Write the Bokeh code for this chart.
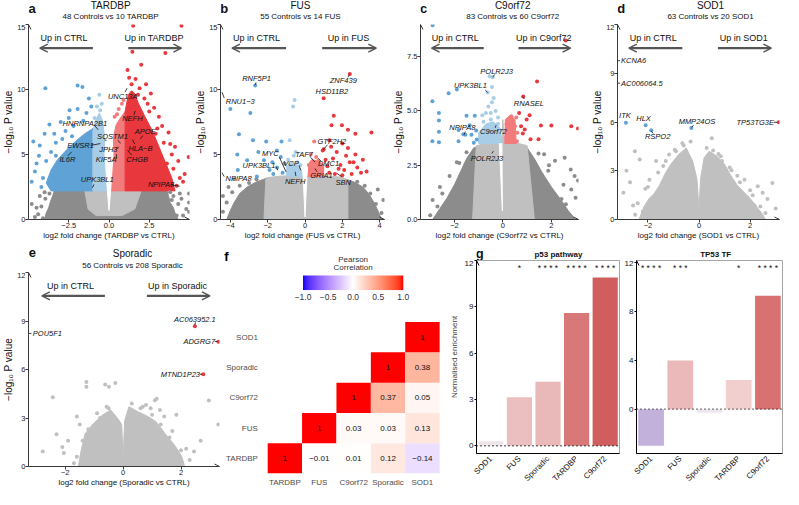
import math
import numpy as np
from bokeh.plotting import figure
from bokeh.models import (Range1d, FixedTicker, Label, Arrow, OpenHead, Span,
                          LinearColorMapper, ColumnDataSource, CustomJSTickFormatter)
from bokeh.layouts import row, column
from bokeh.embed import file_html
from bokeh.resources import INLINE
from bokeh.core.properties import value, field

FONT = "Liberation Sans"

# ======================= DATA =======================
# ---- Panel a: TARDBP volcano ----
a_poly_g = ["N", "n", "D", "d", "u", "U", "W"]
a_poly_x = [[-4.0, -3.9, -3.75, -3.6, -3.5, -3.4, 3.6, 3.7, 3.8, 4.0, 4.1, 4.3],
            [-1.5, 2.0, 1.6, 0.8, -0.8, -1.3],
            [-3.6, -3.9, -3.6, -3.2, -2.6, -2.0, -1.5, -1.0, -1.0],
            [-1.0, -1.0, -0.85, -0.6, -0.4, -0.3, -0.2, -0.1],
            [0.1, 0.2, 0.25, 0.45, 0.7, 1.0, 1.0],
            [1.0, 1.0, 1.2, 1.4, 1.6, 1.8, 2.2, 2.7, 3.1, 3.5, 3.9, 4.1],
            [0.0, -0.1, -0.25, -0.2, 0.0, 0.2, 0.25, 0.1]]
a_poly_y = [[0, 0.5, 0.9, 1.5, 1.8, 2.2, 2.2, 1.8, 1.3, 0.9, 0.5, 0],
            [2.2, 2.2, 0.8, 0.3, 0.3, 0.8],
            [2.2, 2.8, 3.8, 4.6, 5.4, 6.1, 6.6, 7.0, 2.2],
            [2.2, 6.8, 7.6, 8.2, 7.6, 6.6, 5.5, 2.2],
            [2.2, 5.0, 6.2, 7.3, 7.8, 8.3, 2.2],
            [2.2, 8.3, 9.6, 9.9, 9.7, 9.0, 8.0, 6.8, 5.6, 4.4, 3.2, 2.2],
            [0.7, 2.2, 5.0, 6.3, 6.6, 6.3, 5.0, 2.2]]
a_ns_out = [(-4.4, 0.4), (-4.2, 1.0), (-3.95, 1.6), (-4.6, 0.2), (-3.7, 2.0), (-4.3, 1.8),
            (3.9, 0.5), (4.3, 1.2), (4.6, 0.3), (4.0, 1.8), (-3.6, 0.3), (4.97, 2.0),
            (4.97, 1.3), (4.97, 0.6), (4.4, 2.0), (3.8, 2.1), (-4.8, 1.2), (4.8, 0.8),
            (-4.1, 0.1), (4.5, 1.6), (-4.5, 0.9), (4.2, 0.3), (3.9, 1.5), (-4.0, 2.1)]
a_dn_lo = [(-0.6, 9.6), (-0.75, 8.7), (-0.45, 8.9), (-0.9, 7.8), (-0.55, 8.4)]
a_dn = [(-3.95, 10.1), (-1.95, 10.3), (-1.65, 10.2), (-2.45, 8.4), (-1.95, 8.5), (-1.25, 9.3),
        (-1.1, 8.7), (-4.7, 6.0), (-4.0, 6.6), (-4.35, 4.9), (-4.6, 3.7), (-3.7, 7.3),
        (-3.0, 7.5), (-3.3, 5.9), (-2.7, 6.8), (-3.9, 4.5), (-4.1, 3.2), (-3.6, 5.2),
        (-2.2, 7.2), (-4.8, 2.9), (-2.9, 6.2), (-1.6, 7.6), (-4.3, 5.7), (-2.5, 7.8),
        (-1.4, 8.2), (-3.4, 6.6), (-4.5, 4.3), (-4.2, 2.5), (-3.3, 4.9), (-2.3, 6.4)]
a_up_lo = [(0.35, 7.9), (0.6, 8.5), (0.8, 8.9), (0.5, 8.1), (0.9, 9.2)]
a_up = [(1.5, 14.9), (4.5, 14.9), (1.45, 12.9), (3.5, 12.8), (2.0, 11.9), (1.15, 11.5),
        (1.25, 10.9), (1.65, 10.8), (2.3, 10.4), (1.4, 10.4), (1.9, 10.1), (2.6, 9.7),
        (2.2, 9.3), (2.8, 8.6), (3.1, 7.9), (2.5, 8.3), (3.3, 7.2), (3.7, 6.7), (4.1, 5.6),
        (3.9, 5.0), (4.3, 4.5), (3.4, 5.9), (4.0, 3.9), (3.6, 4.3), (4.4, 3.2), (4.7, 3.5),
        (2.9, 6.6), (4.2, 2.6), (4.95, 4.8), (2.4, 8.9), (1.8, 9.6), (3.0, 7.0), (3.8, 5.8),
        (4.6, 2.9)]
a_genes = ["UNC13A", "NEFH", "APOE", "HNRNPA2B1", "SQSTM1", "EWSR1", "HLA\u2212B", "JPH3",
           "IL6R", "KIF5A", "CHGB", "UPK3BL1", "NPIPA8"]
a_gene_x = [0.85, 1.45, 2.25, -1.5, 0.22, -1.77, 1.95, -0.04, -2.58, -0.18, 1.75, -0.73, 3.23]
a_gene_y = [9.5, 7.8, 6.75, 7.4, 6.4, 5.7, 5.5, 5.4, 4.63, 4.58, 4.63, 3.05, 2.73]
a_gene_al = ["center"] * 13
a_lead_x0 = [1.0, 1.55, 2.1, -0.87, 0.55, -1.13, 1.6, 0.42, -2.56, 0.46, 1.41, -0.93, 3.83]
a_lead_y0 = [9.8, 8.05, 6.45, 7.2, 6.1, 5.7, 5.8, 5.4, 4.9, 4.66, 4.95, 2.7, 2.68]
a_lead_x1 = [1.12, 1.62, 1.95, -0.67, 0.72, -0.54, 1.45, 0.61, -2.32, 0.46, 1.15, -1.03, 4.39]
a_lead_y1 = [10.1, 8.35, 6.2, 6.9, 5.85, 5.84, 6.15, 5.57, 5.2, 5.03, 5.32, 2.44, 2.56]

# ---- Panel b: FUS volcano ----
b_poly_g = ["N", "n", "d", "u", "W"]
b_poly_x = [[-4.2, -4.0, -3.8, -3.5, -3.1, -2.6, -2.0, 2.0, 2.6, 3.1, 3.4, 3.7, 3.9, 4.1],
            [-2.1, -1.9, -1.2, 1.2, 2.0, 2.3, 2.3, -2.2],
            [-1.0, -1.0, -0.7, -0.4, -0.12, -0.1],
            [0.1, 0.15, 0.35, 0.7, 1.0, 1.0],
            [0.0, -0.1, -0.16, 0.16, 0.1]]
b_poly_y = [[0, 0.7, 1.3, 2.0, 2.5, 2.9, 3.2, 3.2, 2.9, 2.5, 2.0, 1.3, 0.7, 0],
            [3.1, 3.25, 3.35, 3.35, 3.25, 3.0, 0, 0],
            [3.3, 4.1, 4.4, 4.2, 3.6, 3.3],
            [3.3, 4.2, 4.6, 4.5, 4.2, 3.3],
            [0.2, 3.3, 4.4, 4.4, 3.3]]
b_ns_out = [(-4.2, 1.3), (-3.9, 2.1), (-3.5, 2.6), (-4.4, 0.6), (3.8, 1.2), (3.5, 2.0),
            (4.1, 0.5), (3.2, 2.6), (-3.0, 2.8), (-3.8, 3.1), (2.8, 2.9), (-4.1, 2.5),
            (3.9, 2.3), (-3.3, 1.4), (3.6, 0.9), (-4.4, 1.8), (4.2, 1.5), (-2.6, 3.1)]
b_dn_lo = [(-0.56, 9.2), (-0.64, 8.7), (-0.82, 6.1), (-0.6, 4.9), (-0.4, 4.4), (-0.8, 4.0),
           (-0.3, 3.8), (-0.7, 3.5), (-0.5, 5.2), (-0.9, 4.6), (-0.25, 4.2)]
b_dn = [(-2.67, 10.3), (-4.0, 8.5), (-2.93, 8.2), (-3.54, 6.55), (-2.79, 6.1), (-2.08, 6.0),
        (-1.26, 6.0), (-1.51, 5.3), (-3.63, 5.0), (-3.1, 4.55), (-2.2, 4.55), (-3.6, 3.8),
        (-2.58, 3.3), (-1.5, 4.0), (-1.2, 3.6), (-1.7, 3.5), (-1.1, 4.3), (-1.9, 3.8),
        (-1.3, 4.8), (-2.5, 5.2), (-1.75, 4.4)]
b_up_lo = [(0.49, 6.0), (0.3, 5.0), (0.6, 4.8), (0.45, 4.4), (0.75, 4.1), (0.2, 4.2),
           (0.55, 3.8), (0.85, 3.7), (0.35, 3.6), (0.7, 4.5), (0.9, 4.0)]
b_up = [(2.4, 11.2), (1.0, 9.33), (1.54, 7.98), (1.98, 7.25), (3.56, 6.7), (1.42, 7.25),
        (2.3, 6.9), (2.7, 6.6), (1.3, 6.1), (2.0, 5.85), (1.0, 5.4), (1.7, 5.2), (2.3, 5.5),
        (2.7, 5.0), (3.1, 4.6), (2.4, 4.4), (1.9, 4.2), (1.5, 4.7), (1.2, 4.1), (2.8, 4.0),
        (3.0, 3.6), (2.1, 3.8), (1.6, 3.5), (2.5, 3.5), (3.3, 3.7), (1.3, 3.6), (2.2, 4.9),
        (1.1, 4.6), (2.6, 4.4), (1.8, 3.9), (2.0, 3.4), (1.4, 5.6), (0.95, 5.3)]
b_genes = ["RNF5P1", "RNU1\u22123", "ZNF439", "HSD11B2", "GTF2H2", "TAF7", "MYC", "VCP",
           "UPK3BL1", "DMC1", "NEFH", "GRIA1", "SBN", "NPIPA8"]
b_gene_x = [-2.6, -4.25, 2.05, 1.44, 1.44, -0.05, -1.86, -0.75, -2.47, 1.26, -0.53, 0.88, 2.05, -4.26]
b_gene_y = [10.86, 9.04, 10.7, 9.83, 6.0, 5.03, 5.08, 4.29, 4.16, 4.29, 2.93, 3.35, 2.81, 3.18]
b_gene_al = ["center", "left"] + ["center"] * 11 + ["left"]
b_lead_x0 = [-2.62, -4.45, 2.3, 1.2, 0.3, -1.37, -0.32, -1.54, 0.85, -0.49, 0.65, 1.96, -4.45]
b_lead_y0 = [10.55, 9.8, 10.95, 5.75, 4.78, 4.78, 4.16, 4.04, 4.5, 3.35, 3.67, 3.3, 3.6]
b_lead_x1 = [-2.67, -4.33, 2.38, 0.97, 0.53, -1.02, -0.23, -1.46, 0.7, -0.53, 0.53, 1.7, -4.33]
b_lead_y1 = [10.35, 9.35, 11.15, 5.35, 4.41, 3.67, 3.79, 3.79, 4.72, 3.67, 3.92, 3.55, 3.3]

# ---- Panel c: C9orf72 volcano ----
c_poly_g = ["N", "n", "d", "u", "W"]
c_poly_x = [[-2.9, -2.6, -2.3, -2.0, -1.75, -1.5, -1.2, -0.5, 0.5, 1.0, 1.3, 1.6, 2.0, 2.4, 2.7, 3.0],
            [-1.25, -1.1, -0.3, -0.05, 0.0, 0.05, 0.3, 1.0, 1.3],
            [-1.0, -1.0, -0.7, -0.4, -0.1, -0.08],
            [0.08, 0.1, 0.3, 0.5, 0.55],
            [-0.02, -0.15, -0.04]]
c_poly_y = [[0, 0.5, 1.0, 1.6, 2.2, 2.8, 3.3, 3.5, 3.5, 3.3, 2.8, 2.2, 1.5, 0.9, 0.4, 0],
            [0, 3.4, 3.6, 3.7, 4.6, 3.7, 3.6, 3.4, 0],
            [3.5, 4.0, 4.4, 4.5, 4.2, 3.5],
            [3.5, 4.6, 4.8, 4.6, 3.5],
            [0.4, 3.5, 3.5]]
c_ns_out = [(-1.9, 2.64), (-2.5, 1.2), (-2.3, 0.35), (2.96, 2.0), (2.55, 2.84), (2.15, 2.7),
            (1.47, 3.04), (1.87, 2.24), (2.42, 0.94), (2.82, 1.38), (-2.6, 1.5), (-2.9, 0.9),
            (-2.2, 2.0), (-1.8, 2.6), (2.8, 2.3), (2.5, 1.6), (3.0, 1.0), (2.2, 0.4), (1.9, 2.5),
            (1.7, 3.0), (-2.0, 0.8), (2.6, 0.7), (-3.0, 0.2), (3.1, 1.8), (-1.5, 3.1),
            (-2.7, 0.6), (1.6, 2.0), (-1.6, 2.2)]
c_dn_lo = [(-0.42, 6.55), (-0.55, 6.6), (-0.45, 6.1), (-0.63, 5.85), (-0.6, 5.2), (-0.45, 5.4),
           (-0.3, 5.0), (-0.7, 4.9), (-0.2, 4.7), (-0.5, 4.6), (-0.8, 4.5), (-0.35, 4.3),
           (-0.65, 4.2), (-0.9, 4.0), (-0.15, 4.1), (-0.55, 3.9), (-0.25, 3.75), (-0.75, 3.7),
           (-0.4, 3.6), (-0.95, 3.6), (-0.1, 3.6), (-0.85, 4.8), (-0.3, 3.9), (-0.6, 3.55),
           (-0.28, 4.34), (-0.45, 4.0), (-0.7, 3.85), (-0.2, 4.4), (-0.5, 4.9), (-0.38, 5.6)]
c_dn = [(-2.91, 5.44), (-2.24, 5.81), (-1.9, 5.99), (-2.64, 4.9), (-2.64, 4.56), (-2.64, 4.04),
        (-2.91, 3.6), (-2.64, 3.56), (-1.5, 4.78), (-1.16, 4.78), (-1.37, 4.34), (-1.83, 4.12),
        (-1.63, 3.93), (-1.3, 3.9), (-1.83, 3.6), (-1.08, 3.68), (-1.2, 3.53), (-2.9, 8.95),
        (-1.55, 3.9), (-1.1, 4.1)]
c_up_lo = [(0.15, 4.4), (0.35, 4.2), (0.25, 3.9), (0.45, 3.7), (0.2, 4.6), (0.4, 4.5),
           (0.6, 4.0), (0.55, 4.7), (0.3, 3.6), (0.5, 4.3), (0.13, 3.8), (0.4, 3.95),
           (0.22, 4.25), (0.58, 3.6), (0.35, 4.75), (0.15, 4.05)]
c_up = [(0.84, 5.66), (1.41, 6.35), (0.67, 4.9), (1.1, 4.8), (0.98, 4.6), (1.57, 4.33),
        (2.0, 4.33), (2.82, 4.3), (1.14, 3.7), (1.47, 3.7), (0.82, 3.96), (3.1, 4.19),
        (2.59, 8.24), (0.75, 4.3), (0.9, 4.15)]
c_genes = ["POLR2J3", "UPK3BL1", "RNASEL", "NPIPA8", "C9orf72", "POLR2J3"]
c_gene_x = [-0.26, -1.34, 1.07, -1.67, -0.39, -0.66]
c_gene_y = [6.81, 6.18, 5.34, 4.23, 4.04, 2.83]
c_gene_al = ["center"] * 6
c_lead_x0 = [-0.34, -0.73, 0.89, -1.55, -0.32, -0.46]
c_lead_y0 = [6.68, 5.96, 5.55, 4.05, 4.22, 3.04]
c_lead_x1 = [-0.42, -0.63, 0.8, -1.6, -0.28, -0.39]
c_lead_y1 = [6.55, 5.85, 5.66, 3.9, 4.34, 3.15]

# ---- Panel d: SOD1 volcano ----
d_poly_g = ["n"]
d_poly_x = [[-2.35, -2.15, -1.95, -1.75, -1.55, -1.3, -1.1, -0.8, -0.5, -0.25, -0.08, 0.0,
             0.06, 0.2, 0.4, 0.7, 1.0, 1.25, 1.5, 1.75, 2.0, 2.3, 2.5, 2.6]]
d_poly_y = [[0, 0.8, 1.3, 1.6, 2.1, 2.9, 3.4, 4.0, 4.4, 3.6, 2.5, 0.6,
             2.5, 3.8, 4.2, 3.9, 3.4, 2.7, 2.1, 1.7, 1.3, 0.7, 0.3, 0]]
d_ns = [(-0.33, 4.8), (-0.65, 4.7), (-1.17, 4.0), (-1.68, 3.6), (-2.51, 4.2), (-2.32, 3.7),
        (-1.94, 2.44), (-2.84, 3.0), (-2.96, 1.65), (-2.58, 0.86), (-1.04, 2.8), (0.5, 5.0),
        (0.76, 4.03), (1.27, 3.03), (1.78, 2.44), (2.3, 2.05), (2.49, 1.65), (2.68, 1.26),
        (2.87, 2.24), (2.17, 0.86), (3.0, 0.67), (-1.4, 3.3), (-2.1, 1.9), (1.5, 2.7),
        (2.0, 1.8), (-2.7, 2.3), (2.6, 0.4), (-2.2, 0.5), (0.9, 3.6), (-0.9, 4.2),
        (-2.4, 1.0), (-2.0, 2.0), (-1.6, 2.9), (-1.3, 3.6), (-0.95, 4.3), (-0.6, 4.55),
        (0.3, 4.4), (0.55, 4.25), (0.85, 3.9), (1.2, 3.2), (1.6, 2.3), (2.1, 1.5), (2.4, 0.8),
        (-2.5, 0.3)]
d_dn = [(-2.86, 5.95), (-2.09, 5.8), (-1.87, 5.5), (-0.3, 5.63)]
d_up = [(3.12, 5.99)]
d_genes = ["KCNA6", "AC006064.5", "ITK", "HLX", "RSPO2", "MMP24OS", "TP53TG3E"]
d_gene_x = [-3.05, -3.05, -2.9, -2.17, -1.62, -0.08, 2.2]
d_gene_y = [9.77, 8.39, 6.42, 6.22, 5.1, 6.03, 5.95]
d_gene_al = ["left", "left", "center", "center", "center", "center", "center"]
d_lead_x0 = [-3.19, -3.19, -1.8, -0.22, 2.93]
d_lead_y0 = [9.77, 8.39, 5.3, 5.8, 5.98]
d_lead_x1 = [-3.09, -3.09, -1.87, -0.28, 3.06]
d_lead_y1 = [9.77, 8.39, 5.45, 5.68, 5.98]

# ---- Panel e: Sporadic volcano ----
e_poly_g = ["n"]
e_poly_x = [[-1.55, -1.5, -1.45, -1.38, -1.32, -1.15, -1.0, -0.7, -0.43, -0.2, -0.05, 0.0,
             0.05, 0.2, 0.5, 0.85, 1.12, 1.3, 1.46, 1.7, 1.9, 2.05, 2.12]]
e_poly_y = [[0, 0.5, 1.0, 1.5, 2.0, 2.4, 2.7, 3.2, 3.5, 3.0, 2.6, 0.5,
             2.8, 3.7, 3.4, 3.1, 2.8, 2.4, 2.0, 1.5, 1.0, 0.5, 0]]
e_ns = [(-1.27, 5.22), (-1.27, 4.93), (-0.62, 5.07), (-0.49, 4.93), (-0.27, 5.17), (-2.43, 4.28),
        (-0.57, 3.7), (1.16, 4.19), (1.1, 4.1), (0.68, 3.7), (0.79, 3.8), (1.84, 3.2),
        (-2.78, 0.93), (-2.1, 1.2), (-2.05, 0.83), (-1.6, 3.1), (2.18, 1.1), (2.45, 0.93),
        (1.27, 3.5), (1.42, 3.1), (2.96, 4.08), (2.68, 1.6), (3.29, 2.6), (-1.9, 1.6),
        (1.7, 2.2), (-1.5, 2.6), (0.95, 3.6), (-0.9, 3.3), (1.95, 0.6), (-2.3, 2.0),
        (-1.6, 0.6), (-1.4, 1.6), (-1.2, 2.3), (-0.8, 3.0), (-0.5, 3.6), (0.3, 3.9),
        (0.6, 3.6), (1.0, 3.2), (1.3, 2.6), (1.6, 1.8), (2.0, 1.0), (2.3, 0.4), (-1.7, 0.2)]
e_up = [(2.48, 8.67), (3.29, 7.72), (2.77, 5.71)]
e_genes = ["POU5F1", "AC063952.1", "ADGRG7", "MTND1P23"]
e_gene_x = [-3.12, 2.48, 2.63, 1.98]
e_gene_y = [8.23, 9.1, 7.76, 5.71]
e_gene_al = ["left", "center", "center", "center"]
e_lead_x0 = [-3.27, 2.5, 3.17, 2.64]
e_lead_y0 = [8.23, 8.92, 7.74, 5.71]
e_lead_x1 = [-3.17, 2.48, 3.26, 2.73]
e_lead_y1 = [8.23, 8.75, 7.73, 5.71]

# ---- Panel f: Pearson correlation (lower triangle) ----
f_cols = ["TARDBP", "FUS", "C9orf72", "Sporadic", "SOD1"]
f_rows = ["TARDBP", "FUS", "C9orf72", "Sporadic", "SOD1"]   # bottom -> top
f_x = ["TARDBP", "FUS", "C9orf72", "Sporadic", "SOD1",
       "FUS", "C9orf72", "Sporadic", "SOD1",
       "C9orf72", "Sporadic", "SOD1",
       "Sporadic", "SOD1",
       "SOD1"]
f_y = ["TARDBP"] * 5 + ["FUS"] * 4 + ["C9orf72"] * 3 + ["Sporadic"] * 2 + ["SOD1"]
f_r = [1, -0.01, 0.01, 0.12, -0.14,
       1, 0.03, 0.03, 0.13,
       1, 0.37, 0.05,
       1, 0.38,
       1]
f_bar_ticks = [-1.0, -0.5, 0.0, 0.5, 1.0]

# ---- Panel g: normalised enrichment ----
g_cats = ["SOD1", "FUS", "Sporadic", "TARDBP", "C9orf72"]
g_p53 = [0.3, 3.15, 4.15, 8.6, 10.9]
g_p53_sig = ["", "*", "* * * *", "* * * *", "* * * *"]
g_tf = [-3.0, 4.0, -0.3, 2.4, 9.3]
g_tf_sig = ["* * * *", "* * *", "", "*", "* * * *"]
g_p53_colors = ["#efe6ea", "#ebbfbf", "#e9b8b8", "#d97878", "#d05e5e"]
g_tf_colors = ["#c2b1db", "#ebb9b9", "#ece7ee", "#f1cfcf", "#d87272"]

# ======================= HELPERS =======================
SX = 783 / 799
SY = 489 / 505


def P(v, s):
    return int(round(v * s))


COL = {"U": "#e8383d", "u": "#f27b7b", "D": "#5fa2d5", "d": "#a8cde7",
       "N": "#8c8c8c", "n": "#c0c0c0", "W": "#ffffff"}
AXC = "#3a3a3a"
ARC = "#555555"


def panel(box, frame, xr, yr, yaxis=True):
    x0, y0, x1, y1 = box
    L, T, R, B = frame
    W = P(x1, SX) - P(x0, SX)
    H = P(y1, SY) - P(y0, SY)
    kw = {} if yaxis else {"y_axis_location": None}
    p = figure(width=W, height=H, x_range=Range1d(*xr), y_range=Range1d(*yr),
               output_backend="svg", toolbar_location=None, title=None,
               min_border_left=P(L, SX) - P(x0, SX), min_border_right=P(x1, SX) - P(R, SX),
               min_border_top=P(T, SY) - P(y0, SY), min_border_bottom=P(y1, SY) - P(B, SY), **kw)
    p.outline_line_color = None
    p.xgrid.visible = False
    p.ygrid.visible = False
    p.background_fill_color = "white"
    p.border_fill_color = "white"

    def rx(v):
        return xr[0] + (v - L) / (R - L) * (xr[1] - xr[0])

    def ry(v):
        return yr[0] + (B - v) / (B - T) * (yr[1] - yr[0])
    return p, rx, ry


def header(x0, x1, y0, y1, items):
    """A strip above a panel whose scales are the reference page pixels."""
    W = P(x1, SX) - P(x0, SX)
    H = P(y1, SY) - P(y0, SY)
    h = figure(width=W, height=H, x_range=Range1d(x0, x1), y_range=Range1d(y1, y0),
               output_backend="svg", toolbar_location=None, title=None,
               x_axis_location=None, y_axis_location=None,
               min_border_left=0, min_border_right=0, min_border_top=0, min_border_bottom=0)
    h.outline_line_color = None
    h.xgrid.visible = False
    h.ygrid.visible = False
    for gr in list(h.center):
        gr.visible = False
    h.background_fill_color = "white"
    h.border_fill_color = "white"
    for (x, y, t, size, style) in items:
        h.text(x=[x], y=[y], text=[t], text_font=value(FONT), text_font_size=size,
               text_font_style=style, text_align="center", text_baseline="middle",
               text_color="#111111")
    return h


def fmt(dec):
    return CustomJSTickFormatter(
        code="var s = Math.abs(tick).toFixed(%d); return (tick < -1e-9 ? '\u2212' : '') + s;" % dec)


def style_axes(p, xticks, yticks, xdec, ydec, xlabel, ylabel, tick_fs="7.5px", lab_fs="8px"):
    p.xaxis.ticker = FixedTicker(ticks=xticks)
    p.yaxis.ticker = FixedTicker(ticks=yticks)
    p.xaxis.formatter = fmt(xdec)
    p.yaxis.formatter = fmt(ydec)
    p.xaxis.axis_label = xlabel
    p.yaxis.axis_label = ylabel
    for ax in (p.xaxis[0], p.yaxis[0]):
        ax.axis_line_color = AXC
        ax.axis_line_width = 1
        ax.major_tick_line_color = AXC
        ax.major_tick_out = 3
        ax.major_tick_in = 0
        ax.minor_tick_line_color = None
        ax.major_label_text_font = FONT
        ax.major_label_text_font_size = tick_fs
        ax.major_label_text_color = "#222222"
        ax.major_label_standoff = 0
        ax.axis_label_text_font = FONT
        ax.axis_label_text_font_size = lab_fs
        ax.axis_label_text_font_style = "normal"
        ax.axis_label_text_color = "#111111"
        ax.axis_label_standoff = 0


def add_label(p, x, y, text, size, style="normal", color="#111111", align="center"):
    p.add_layout(Label(x=x, y=y, text=text, text_font=FONT, text_font_size=size,
                       text_font_style=style, text_color=color, text_align=align,
                       text_baseline="middle"))


def axis_arrows(p, xr, yr, color=AXC, x=True, y=True):
    if y:
        d = (yr[1] - yr[0]) * 0.02
        p.add_layout(Arrow(end=OpenHead(size=5, line_width=1, line_color=color),
                           x_start=xr[0], y_start=yr[1] - d, x_end=xr[0], y_end=yr[1],
                           line_color=color, line_width=1))
    if x:
        d = (xr[1] - xr[0]) * 0.02
        p.add_layout(Arrow(end=OpenHead(size=5, line_width=1, line_color=color),
                           x_start=xr[1] - d, y_start=yr[0], x_end=xr[1], y_end=yr[0],
                           line_color=color, line_width=1))


def volcano(box, frame, xr, yr, xt, yt, xdec, ydec, xlabel, title, title_xy, sub, sub_xy,
            letter, letter_xy, right_name, polx, poly, polg, layers,
            genes, gx, gy, gal, lx0, ly0, lx1, ly1):
    x0, y0, x1, y1 = box
    L, T, R, B = frame
    h = header(x0, x1, y0, T, [(letter_xy[0], letter_xy[1], letter, "13px", "bold"),
                               (title_xy[0], title_xy[1], title, "10px", "normal"),
                               (sub_xy[0], sub_xy[1], sub, "8px", "normal")])
    p, rx, ry = panel((x0, T, x1, y1), frame, xr, yr)
    style_axes(p, xt, yt, xdec, ydec, xlabel, "\u2212log\u2081\u2080 P value", lab_fs="8px")
    p.yaxis.axis_label_text_font_size = "10px"
    p.patches(xs=polx, ys=poly, fill_color=[COL[g] for g in polg],
              line_color=[COL[g] for g in polg], line_width=1)
    for key, pts in layers:
        p.scatter(x=[q[0] for q in pts], y=[q[1] for q in pts], size=4,
                  fill_color=COL[key], line_color=None)
    p.segment(x0=lx0, y0=ly0, x1=lx1, y1=ly1, line_color="#111111", line_width=0.8)
    src = ColumnDataSource(dict(x=gx, y=gy, t=genes, al=gal))
    p.text(x="x", y="y", text="t", source=src, text_font=value(FONT),
           text_font_size="7.5px", text_font_style="italic",
           text_align=field("al"), text_baseline="middle", text_color="#111111")
    yt_ = ry(T + 14.5)
    ya = ry(T + 24.5)
    add_label(p, rx(L + 0.22 * (R - L)), yt_, "Up in CTRL", "9px")
    add_label(p, rx(L + 0.78 * (R - L)), yt_, "Up in " + right_name, "9px")
    p.add_layout(Arrow(end=OpenHead(size=8, line_width=1.4, line_color=ARC),
                       x_start=rx(L + 0.40 * (R - L)), y_start=ya,
                       x_end=rx(L + 0.07 * (R - L)), y_end=ya, line_width=2.2, line_color=ARC))
    p.add_layout(Arrow(end=OpenHead(size=8, line_width=1.4, line_color=ARC),
                       x_start=rx(L + 0.62 * (R - L)), y_start=ya,
                       x_end=rx(L + 0.95 * (R - L)), y_end=ya, line_width=2.2, line_color=ARC))
    axis_arrows(p, xr, yr)
    return column(h, p)


# ======================= PANELS =======================
pa = volcano((0, 0, 196, 250), (25, 25, 193, 228), (-5.0, 5.0), (0, 15),
             [-2.5, 0, 2.5], [0, 5, 10, 15], 1, 0, "log2 fold change (TARDBP vs CTRL)",
             "TARDBP", (100, 5.5), "48 Controls vs 10 TARDBP", (100, 16.5), "a", (4.5, 8), "TARDBP",
             a_poly_x, a_poly_y, a_poly_g,
             [("N", a_ns_out), ("d", a_dn_lo), ("D", a_dn), ("u", a_up_lo), ("U", a_up)],
             a_genes, a_gene_x, a_gene_y, a_gene_al, a_lead_x0, a_lead_y0, a_lead_x1, a_lead_y1)

pb = volcano((196, 0, 393, 250), (225, 25, 392, 228), (-4.53, 4.26), (0, 15),
             [-4, -2, 0, 2, 4], [0, 5, 10, 15], 0, 0, "log2 fold change (FUS vs CTRL)",
             "FUS", (292, 5.5), "55 Controls vs 14 FUS", (292, 16.5), "b", (200.5, 8), "FUS",
             b_poly_x, b_poly_y, b_poly_g,
             [("N", b_ns_out), ("d", b_dn_lo), ("D", b_dn), ("u", b_up_lo), ("U", b_up)],
             b_genes, b_gene_x, b_gene_y, b_gene_al, b_lead_x0, b_lead_y0, b_lead_x1, b_lead_y1)

pc = volcano((393, 0, 597, 250), (429, 25, 590, 228), (-3.40, 3.12), (0, 8.98),
             [-2, 0, 2], [0, 2.5, 5, 7.5], 0, 1, "log2 fold change (C9orf72 vs CTRL)",
             "C9orf72", (512, 5.5), "83 Controls vs 60 C9orf72", (512, 16.5), "c", (397, 8), "C9orf72",
             c_poly_x, c_poly_y, c_poly_g,
             [("N", c_ns_out), ("d", c_dn_lo), ("D", c_dn), ("u", c_up_lo), ("U", c_up)],
             c_genes, c_gene_x, c_gene_y, c_gene_al, c_lead_x0, c_lead_y0, c_lead_x1, c_lead_y1)

pd_ = volcano((597, 0, 799, 250), (630, 25, 795, 228), (-3.19, 3.15), (0, 12),
              [-2, 0, 2], [0, 3, 6, 9, 12], 0, 0, "log2 fold change (SOD1 vs CTRL)",
              "SOD1", (713, 5.5), "63 Controls vs 20 SOD1", (713, 16.5), "d", (601.5, 8), "SOD1",
              d_poly_x, d_poly_y, d_poly_g,
              [("n", d_ns), ("D", d_dn), ("U", d_up)],
              d_genes, d_gene_x, d_gene_y, d_gene_al, d_lead_x0, d_lead_y0, d_lead_x1, d_lead_y1)

pe = volcano((0, 250, 226, 505), (25, 281, 223, 484), (-3.27, 3.33), (0, 12),
             [-2, 0, 2], [0, 3, 6, 9, 12], 0, 0, "log2 fold change (Sporadic vs CTRL)",
             "Sporadic", (123, 261), "56 Controls vs 208 Sporadic", (123, 273.5), "e", (4.5, 260),
             "Sporadic", e_poly_x, e_poly_y, e_poly_g,
             [("n", e_ns), ("U", e_up)],
             e_genes, e_gene_x, e_gene_y, e_gene_al, e_lead_x0, e_lead_y0, e_lead_x1, e_lead_y1)


# ---- heatmap f ----
def _lin(c):
    c = c / 255.0
    return c / 12.92 if c <= 0.04045 else ((c + 0.055) / 1.055) ** 2.4


def _gam(c):
    c = max(0.0, min(1.0, c))
    v = 12.92 * c if c <= 0.0031308 else 1.055 * c ** (1 / 2.4) - 0.055
    return int(round(max(0.0, min(1.0, v)) * 255))


def rgb2lab(rgb):
    r, g, b = (_lin(v) for v in rgb)
    X = (0.4124 * r + 0.3576 * g + 0.1805 * b) / 0.95047
    Y = (0.2126 * r + 0.7152 * g + 0.0722 * b)
    Z = (0.0193 * r + 0.1192 * g + 0.9505 * b) / 1.08883
    f = lambda t: t ** (1 / 3) if t > 0.008856 else 7.787 * t + 16 / 116
    fx, fy, fz = f(X), f(Y), f(Z)
    return (116 * fy - 16, 500 * (fx - fy), 200 * (fy - fz))


def lab2hex(L, a, b):
    fy = (L + 16) / 116
    fx = fy + a / 500
    fz = fy - b / 200
    inv = lambda t: t ** 3 if t ** 3 > 0.008856 else (t - 16 / 116) / 7.787
    X = inv(fx) * 0.95047
    Y = inv(fy)
    Z = inv(fz) * 1.08883
    r = 3.2406 * X - 1.5372 * Y - 0.4986 * Z
    g = -0.9689 * X + 1.8758 * Y + 0.0415 * Z
    bb = 0.0557 * X - 0.2040 * Y + 1.0570 * Z
    return "#%02x%02x%02x" % (_gam(r), _gam(g), _gam(bb))


def div_palette(n=255):
    lo = rgb2lab((0, 0, 255))
    mid = rgb2lab((255, 255, 255))
    hi = rgb2lab((255, 0, 0))
    out = []
    for i in range(n):
        t = -1 + 2 * i / (n - 1)
        end = hi if t >= 0 else lo
        s = abs(t)
        out.append(lab2hex(*[mid[k] + (end[k] - mid[k]) * s for k in range(3)]))
    return out


mapper = LinearColorMapper(palette=div_palette(), low=-1, high=1)
# frame covers the whole strip; cells start at ref x=273 (35 px/col), rows end at y=488 (31.2 px/row)
F_XR = ((226 - 273) / 35.0, (455 - 273) / 35.0)
F_YR = (0, (488 - 250) / 31.2)
pf, rxf, ryf = panel((226, 250, 455, 505), (226, 250, 455, 488), F_XR, F_YR, yaxis=False)
cx = [f_cols.index(c) + 0.5 for c in f_x]
cy = [f_rows.index(r) + 0.5 for r in f_y]
ctext = ["1" if v == 1 else ("%.2f" % v).replace("-", "\u2212") for v in f_r]
fsrc = ColumnDataSource(dict(x=cx, y=cy, r=f_r, t=ctext))
pf.rect(x="x", y="y", width=1, height=1, source=fsrc,
        fill_color={"field": "r", "transform": mapper}, line_color=None)
pf.text(x="x", y="y", text="t", source=fsrc, text_font=value(FONT), text_font_size="8px",
        text_align="center", text_baseline="middle", text_color="#111111")
# row labels (y categories)
pf.text(x=[rxf(263)] * len(f_rows), y=[i + 0.5 for i in range(len(f_rows))], text=f_rows,
        text_font=value(FONT), text_font_size="8px", text_align="right",
        text_baseline="middle", text_color="#4d4d4d")
# colour bar
pf.image(image=[np.linspace(-1, 1, 256).reshape(1, 256)], x=rxf(309), y=ryf(299),
         dw=rxf(411) - rxf(309), dh=ryf(284) - ryf(299), color_mapper=mapper)
bx = [rxf(309) + (t + 1) / 2 * (rxf(411) - rxf(309)) for t in f_bar_ticks]
bt = [("%.1f" % t).replace("-", "\u2212") for t in f_bar_ticks]
pf.text(x=bx, y=[ryf(306.5)] * len(bx), text=bt, text_font=value(FONT), text_font_size="8.5px",
        text_align="center", text_baseline="middle", text_color="#333333")
pf.text(x=[rxf(360), rxf(360)], y=[ryf(267), ryf(276)], text=["Pearson", "Correlation"],
        text_font=value(FONT), text_font_size="8px", text_align="center",
        text_baseline="middle", text_color="#333333")
pf.text(x=[rxf(231)], y=[ryf(264)], text=["f"], text_font=value(FONT), text_font_size="13px",
        text_font_style="bold", text_align="center", text_baseline="middle", text_color="black")
pf.xaxis.ticker = FixedTicker(ticks=[i + 0.5 for i in range(len(f_cols))])
pf.xaxis.formatter = CustomJSTickFormatter(args=dict(names=f_cols),
                                           code="return names[Math.round(tick - 0.5)] || '';")
ax = pf.xaxis[0]
ax.axis_line_color = None
ax.major_tick_line_color = None
ax.major_tick_out = 0
ax.major_tick_in = 0
ax.minor_tick_line_color = None
ax.minor_tick_out = 0
ax.major_label_text_font = FONT
ax.major_label_text_font_size = "8px"
ax.major_label_text_color = "#4d4d4d"
ax.major_label_standoff = 4


# ---- bars g ----
def bars(box, frame, yr, vals, sig, colors, yticks, title, ylabel, letter=None, letter_xy=None):
    x0, y0, x1, y1 = box
    L, T, R, B = frame
    items = [((L + R) / 2, 262.5, title, "8px", "bold")]
    if letter:
        items.append((letter_xy[0], letter_xy[1], letter, "13px", "bold"))
    h = header(x0, x1, y0, T, items)
    p, rx, ry = panel((x0, T, x1, y1), frame, (0.5, len(g_cats) + 0.5), yr)
    p.outline_line_color = "#a6a6a6"
    p.outline_line_width = 1
    xs = list(range(1, len(g_cats) + 1))
    p.vbar(x=xs, top=vals, bottom=0, width=0.88, fill_color=colors, line_color=None)
    p.add_layout(Span(location=0, dimension="width", line_color="black",
                      line_dash="1 3", line_width=1.4))
    p.text(x=xs, y=[ry(276.5)] * len(xs), text=sig, text_font=value(FONT),
           text_font_size="8.5px", text_align="center", text_baseline="middle",
           text_color="#111111")
    p.xaxis.ticker = FixedTicker(ticks=xs)
    p.xaxis.formatter = CustomJSTickFormatter(args=dict(names=g_cats),
                                              code="return names[Math.round(tick) - 1] || '';")
    p.yaxis.ticker = FixedTicker(ticks=yticks)
    p.yaxis.formatter = fmt(0)
    p.xaxis.major_label_orientation = math.pi / 4
    for ax_ in (p.xaxis[0], p.yaxis[0]):
        ax_.axis_line_color = "black"
        ax_.axis_line_width = 1
        ax_.minor_tick_line_color = None
        ax_.minor_tick_out = 0
        ax_.major_label_text_font = FONT
        ax_.major_label_text_font_size = "8px"
        ax_.major_label_text_color = "#111111"
        ax_.major_label_standoff = 1
    p.xaxis.major_tick_line_color = None
    p.xaxis.major_tick_out = 0
    p.xaxis.major_tick_in = 0
    p.xaxis.major_label_standoff = 4
    p.yaxis.major_tick_line_color = "black"
    p.yaxis.major_tick_out = 2
    p.yaxis.major_tick_in = 0
    if ylabel:
        p.yaxis.axis_label = ylabel
        p.yaxis.axis_label_text_font = FONT
        p.yaxis.axis_label_text_font_size = "8px"
        p.yaxis.axis_label_text_font_style = "normal"
        p.yaxis.axis_label_standoff = 3
    axis_arrows(p, (0.5, len(g_cats) + 0.5), yr, color="black", x=False)
    return column(h, p)


pg1 = bars((455, 250, 634, 505), (483, 269, 632, 469), (-0.5, 12.0), g_p53, g_p53_sig,
           g_p53_colors, [0, 3, 6, 9, 12], "p53 pathway", "Normalised enrichment", "g", (459, 261.5))
pg2 = bars((634, 250, 799, 505), (649, 269, 798, 469), (-3.64, 12.2), g_tf, g_tf_sig,
           g_tf_colors, [0, 4, 8, 12], "TP53 TF", None)

layout = column(row(pa, pb, pc, pd_), row(pe, pf, pg1, pg2))
with open("out.html", "w", encoding="utf-8") as fh:
    fh.write(file_html(layout, INLINE, title="ALS volcano plots"))
